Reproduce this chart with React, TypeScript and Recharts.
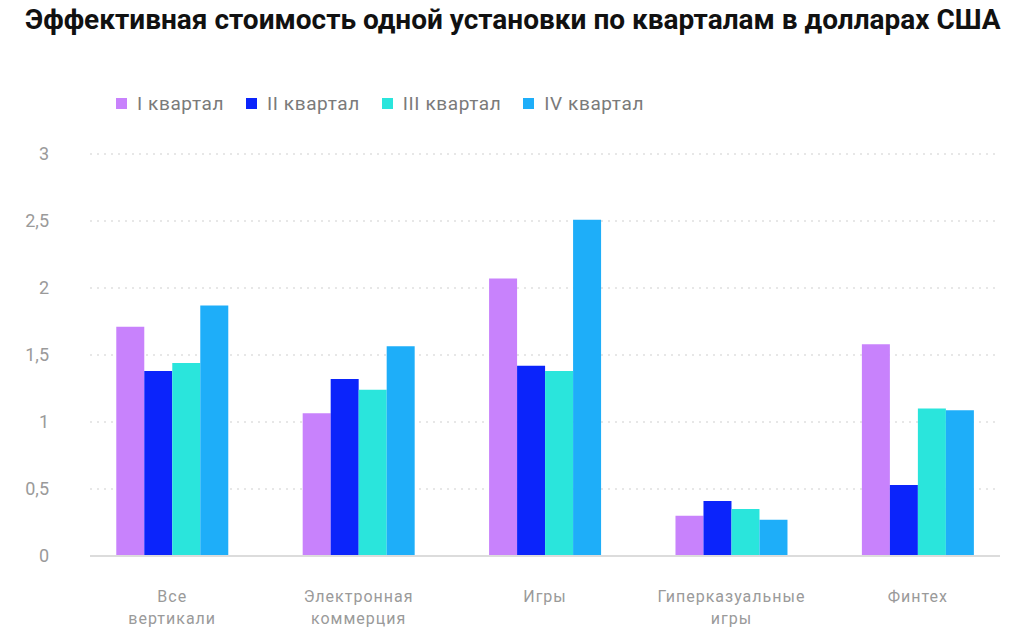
import { Bar, BarChart, CartesianGrid, XAxis, YAxis } from "recharts";

const CATEGORIES = [
  "Все\nвертикали",
  "Электронная\nкоммерция",
  "Игры",
  "Гиперказуальные\nигры",
  "Финтех",
];
const Q1 = [1.71, 1.065, 2.07, 0.3, 1.58];
const Q2 = [1.38, 1.32, 1.42, 0.41, 0.53];
const Q3 = [1.44, 1.24, 1.38, 0.35, 1.1];
const Q4 = [1.87, 1.565, 2.51, 0.27, 1.087];
const SERIES = ["I квартал", "II квартал", "III квартал", "IV квартал"];
const COLORS = ["#c882fc", "#0b24fb", "#2ae5dc", "#1eaef9"];
const Y_TICKS = [0, 0.5, 1, 1.5, 2, 2.5, 3];

const DATA = CATEGORIES.map((c, i) => ({
  c,
  q1: Q1[i],
  q2: Q2[i],
  q3: Q3[i],
  q4: Q4[i],
}));
const KEYS = ["q1", "q2", "q3", "q4"];

const FONT = "Roboto, 'Noto Sans', sans-serif";

function CatTick({ x, y, payload }: any) {
  const lines = String(payload.value).split("\n");
  return (
    <text
      x={x}
      y={y}
      textAnchor="middle"
      fill="#9a9a9a"
      fontSize={16}
      letterSpacing={1}
      fontFamily={FONT}
    >
      {lines.map((l, i) => (
        <tspan key={i} x={x} dy={i === 0 ? 38 : 22}>
          {l}
        </tspan>
      ))}
    </text>
  );
}

function LegendBox() {
  return (
    <div style={{ position: "absolute", left: 116, top: 92, display: "flex", fontFamily: FONT }}>
      {SERIES.map((s, i) => (
        <div
          key={s}
          style={{
            display: "flex",
            alignItems: "center",
            marginRight: 22,
            color: "#7a7a7a",
            fontSize: 19,
            letterSpacing: 0.6,
          }}
        >
          <span style={{ width: 11, height: 11, background: COLORS[i], marginRight: 10 }} />
          {s}
        </div>
      ))}
    </div>
  );
}

export default function App() {
  return (
    <div style={{ position: "absolute", left: 0, top: 0, width: 1024, height: 640, background: "#fff" }}>
      <div
        style={{
          position: "absolute",
          left: 25,
          top: 3,
          fontFamily: FONT,
          fontWeight: 700,
          fontSize: 28,
          color: "#111",
          whiteSpace: "nowrap",
        }}
      >
        Эффективная стоимость одной установки по кварталам в долларах США
      </div>
      <LegendBox />
      <BarChart
        width={1024}
        height={640}
        data={DATA}
        margin={{ top: 154, right: 24, bottom: 0, left: 0 }}
        barCategoryGap="20%"
        barGap={0}
      >
        <CartesianGrid vertical={false} stroke="#cfcfcf" strokeDasharray="2 5" />
        <XAxis
          dataKey="c"
          height={84}
          tick={<CatTick />}
          tickLine={false}
          axisLine={{ stroke: "#dcdcdc", strokeWidth: 2 }}
          padding={{ left: -11, right: -11 }}
          interval={0}
        />
        <YAxis
          width={90}
          domain={[0, 3]}
          ticks={Y_TICKS}
          tickFormatter={(v: number) => String(v).replace(".", ",")}
          tick={{ fill: "#9a9a9a", fontSize: 18, fontFamily: FONT }}
          tickLine={false}
          tickSize={0}
          tickMargin={41}
          axisLine={false}
        />
        {KEYS.map((k, i) => (
          <Bar key={k} dataKey={k} name={SERIES[i]} fill={COLORS[i]} isAnimationActive={false} />
        ))}
      </BarChart>
    </div>
  );
}
